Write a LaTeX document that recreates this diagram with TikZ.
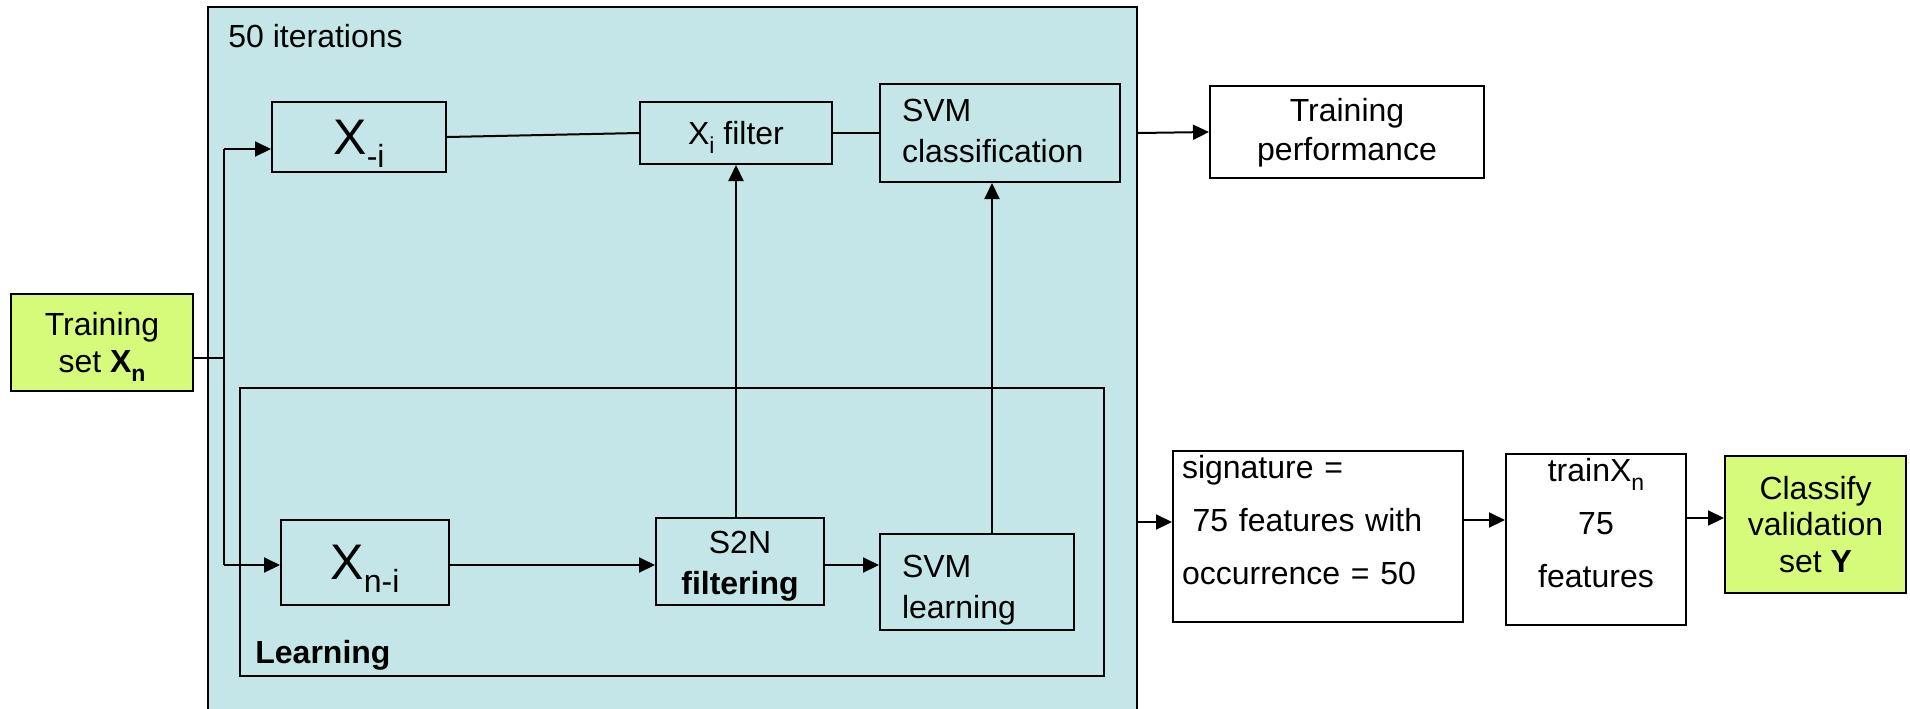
\documentclass[tikz,border=0pt]{standalone}
\usepackage{fontspec}
\setmainfont{Liberation Sans}
\usetikzlibrary{arrows.meta,calc}
\definecolor{panelblue}{RGB}{197,230,232}
\definecolor{limegreen}{RGB}{214,251,122}
% lowered subscript: drop, size, text
\newcommand\lsub[3]{\raisebox{-#1}[\height][0pt]{\fontsize{#2}{#2}\selectfont #3}}
% text block: raise, stretch, column spec, lines
\newcommand\tblock[4]{\raisebox{#1}[\height][\depth]{\def\arraystretch{#2}\begin{tabular}{@{}#3@{}}#4\end{tabular}}}
\begin{document}
\begin{tikzpicture}[x=0.5pt,y=-0.5pt,
  txt/.style={font=\fontsize{16}{18.4}\selectfont},
  big/.style={font=\fontsize{25}{28}\selectfont},
  box/.style={draw,line width=1pt,inner sep=0pt,align=center,txt},
  sz/.style 2 args={minimum width={#1*0.5pt},minimum height={#2*0.5pt}},
  conn/.style={line width=1pt},
  arr/.style={line width=1pt,-{Triangle[length=8pt,width=7.5pt]}}
]
\useasboundingbox (0,0) rectangle (1910,708);
% containers
\node[draw,line width=1.2pt,fill=panelblue,sz={929}{710},inner sep=0pt] (outer) at (672.5,362) {};
\node[anchor=west,txt,inner sep=0pt] (iter) at (228,36) {50 iterations};
\node[draw,line width=1pt,sz={864}{288},inner sep=0pt] (learn) at (672,532) {};
\node[anchor=west,txt,inner sep=0pt] (learnlab) at (255,655) {\textbf{Learning}};
% boxes
\node[box,fill=limegreen,sz={182}{97}] (trainset) at (102,342.5) {Training\\set \textbf{X\lsub{4.5pt}{11.5}{n}}};
\node[box,big,sz={174}{70}] (xmi) at (359,137) {X\lsub{6.5pt}{16}{-i}};
\node[box,sz={192}{62}] (xif) at (736,133) {X\lsub{4.5pt}{11.5}{i} filter};
\node[box,align=left,text width=98pt,inner xsep=11pt,sz={240}{98}] (svmc) at (1000,133) {\tblock{-0.5pt}{1.1}{l}{SVM\\classification}};
\node[box,fill=white,sz={274}{92}] (trperf) at (1347,132) {\tblock{-0.5pt}{1.05}{c}{Training\\performance}};
\node[box,big,sz={168}{85}] (xni) at (365,562.5) {X\lsub{6.5pt}{16}{n-i}};
\node[box,sz={168}{87}] (s2n) at (740,561.5) {\tblock{-2pt}{1.12}{c}{S2N\\\textbf{filtering}}};
\node[box,align=left,text width=75pt,inner xsep=11pt,sz={194}{96}] (svml) at (977,582) {\tblock{-3.7pt}{1.12}{l}{SVM\\learning}};
\node[box,fill=white,align=left,text width=136pt,inner xsep=4.5pt,sz={290}{171}] (sig) at (1318,536.5) {\tblock{8pt}{1.44}{l}{signature =\\\ 75 features with\\occurrence = 50}};
\node[box,fill=white,sz={180}{171}] (trx) at (1596,539.5) {\tblock{8pt}{1.44}{c}{trainX\lsub{4.5pt}{11.5}{n}\\75\\features}};
\node[box,fill=limegreen,sz={181}{137}] (cls) at (1815.5,524.5) {Classify\\validation\\set \textbf{Y}};
% connectors
\coordinate (split) at (224,358);
\coordinate (ctop) at (224,149);
\coordinate (cbot) at (224,565);
\draw[conn] (trainset.east |- split) -- (split);
\draw[conn] (ctop) -- (cbot);
\draw[arr] (ctop) -- (ctop -| xmi.west);
\draw[arr] (cbot) -- (cbot -| xni.west);
\draw[conn] (xmi.east) -- (xif.west);
\draw[conn] (xif.east) -- (svmc.west);
\draw[arr] (outer.east |- svmc.east) -- (trperf.west);
\draw[arr] (xni.east |- cbot) -- (s2n.west |- cbot);
\draw[arr] (s2n.east |- cbot) -- (svml.west |- cbot);
\draw[arr] (s2n.north -| xif.south) -- (xif.south);
\coordinate (up) at (992,534);
\draw[arr] (up) -- (up |- svmc.south);
\coordinate (out2) at (1137,522);
\draw[arr] (out2) -- (out2 -| sig.west);
\coordinate (o3) at (1463,520);
\draw[arr] (o3) -- (o3 -| trx.west);
\coordinate (o4) at (1686,518);
\draw[arr] (o4) -- (o4 -| cls.west);
\end{tikzpicture}
\end{document}
